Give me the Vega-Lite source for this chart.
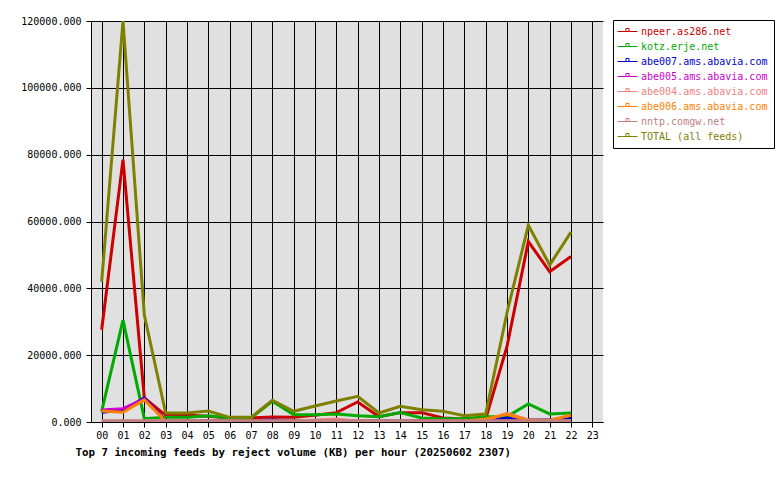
{
  "$schema": "https://vega.github.io/schema/vega-lite/v6.json",
  "width": 512,
  "height": 401,
  "autosize": "none",
  "padding": {"left": 91, "top": 21, "right": 177, "bottom": 58},
  "background": "white",
  "config": {
    "view": {"fill": "#e0e0e0", "stroke": null},
    "font": "DejaVu Sans Mono"
  },
  "data": {"values": [
    {"f":"npeer.as286.net","h":0,"v":27600},{"f":"npeer.as286.net","h":1,"v":78500},{"f":"npeer.as286.net","h":2,"v":7200},{"f":"npeer.as286.net","h":3,"v":2000},{"f":"npeer.as286.net","h":4,"v":2000},{"f":"npeer.as286.net","h":5,"v":1700},{"f":"npeer.as286.net","h":6,"v":1200},{"f":"npeer.as286.net","h":7,"v":1200},{"f":"npeer.as286.net","h":8,"v":1500},{"f":"npeer.as286.net","h":9,"v":1400},{"f":"npeer.as286.net","h":10,"v":2000},{"f":"npeer.as286.net","h":11,"v":2800},{"f":"npeer.as286.net","h":12,"v":6000},{"f":"npeer.as286.net","h":13,"v":1600},{"f":"npeer.as286.net","h":14,"v":2800},{"f":"npeer.as286.net","h":15,"v":2800},{"f":"npeer.as286.net","h":16,"v":1200},{"f":"npeer.as286.net","h":17,"v":900},{"f":"npeer.as286.net","h":18,"v":900},{"f":"npeer.as286.net","h":19,"v":22600},{"f":"npeer.as286.net","h":20,"v":54000},{"f":"npeer.as286.net","h":21,"v":45000},{"f":"npeer.as286.net","h":22,"v":49500},
    {"f":"kotz.erje.net","h":0,"v":3200},{"f":"kotz.erje.net","h":1,"v":30500},{"f":"kotz.erje.net","h":2,"v":1000},{"f":"kotz.erje.net","h":3,"v":1400},{"f":"kotz.erje.net","h":4,"v":1400},{"f":"kotz.erje.net","h":5,"v":1900},{"f":"kotz.erje.net","h":6,"v":1200},{"f":"kotz.erje.net","h":7,"v":1200},{"f":"kotz.erje.net","h":8,"v":6200},{"f":"kotz.erje.net","h":9,"v":2200},{"f":"kotz.erje.net","h":10,"v":2200},{"f":"kotz.erje.net","h":11,"v":2400},{"f":"kotz.erje.net","h":12,"v":1900},{"f":"kotz.erje.net","h":13,"v":1600},{"f":"kotz.erje.net","h":14,"v":2800},{"f":"kotz.erje.net","h":15,"v":1200},{"f":"kotz.erje.net","h":16,"v":1000},{"f":"kotz.erje.net","h":17,"v":1000},{"f":"kotz.erje.net","h":18,"v":1600},{"f":"kotz.erje.net","h":19,"v":1600},{"f":"kotz.erje.net","h":20,"v":5400},{"f":"kotz.erje.net","h":21,"v":2400},{"f":"kotz.erje.net","h":22,"v":2700},
    {"f":"abe007.ams.abavia.com","h":0,"v":2900},{"f":"abe007.ams.abavia.com","h":1,"v":3500},{"f":"abe007.ams.abavia.com","h":2,"v":7200},{"f":"abe007.ams.abavia.com","h":3,"v":300},{"f":"abe007.ams.abavia.com","h":4,"v":300},{"f":"abe007.ams.abavia.com","h":5,"v":300},{"f":"abe007.ams.abavia.com","h":6,"v":300},{"f":"abe007.ams.abavia.com","h":7,"v":300},{"f":"abe007.ams.abavia.com","h":8,"v":600},{"f":"abe007.ams.abavia.com","h":9,"v":300},{"f":"abe007.ams.abavia.com","h":10,"v":300},{"f":"abe007.ams.abavia.com","h":11,"v":300},{"f":"abe007.ams.abavia.com","h":12,"v":300},{"f":"abe007.ams.abavia.com","h":13,"v":300},{"f":"abe007.ams.abavia.com","h":14,"v":300},{"f":"abe007.ams.abavia.com","h":15,"v":300},{"f":"abe007.ams.abavia.com","h":16,"v":300},{"f":"abe007.ams.abavia.com","h":17,"v":300},{"f":"abe007.ams.abavia.com","h":18,"v":300},{"f":"abe007.ams.abavia.com","h":19,"v":1200},{"f":"abe007.ams.abavia.com","h":20,"v":600},{"f":"abe007.ams.abavia.com","h":21,"v":700},{"f":"abe007.ams.abavia.com","h":22,"v":1200},
    {"f":"abe005.ams.abavia.com","h":0,"v":3600},{"f":"abe005.ams.abavia.com","h":1,"v":4000},{"f":"abe005.ams.abavia.com","h":2,"v":6900},{"f":"abe005.ams.abavia.com","h":3,"v":200},{"f":"abe005.ams.abavia.com","h":4,"v":200},{"f":"abe005.ams.abavia.com","h":5,"v":200},{"f":"abe005.ams.abavia.com","h":6,"v":200},{"f":"abe005.ams.abavia.com","h":7,"v":200},{"f":"abe005.ams.abavia.com","h":8,"v":200},{"f":"abe005.ams.abavia.com","h":9,"v":200},{"f":"abe005.ams.abavia.com","h":10,"v":200},{"f":"abe005.ams.abavia.com","h":11,"v":200},{"f":"abe005.ams.abavia.com","h":12,"v":200},{"f":"abe005.ams.abavia.com","h":13,"v":200},{"f":"abe005.ams.abavia.com","h":14,"v":200},{"f":"abe005.ams.abavia.com","h":15,"v":200},{"f":"abe005.ams.abavia.com","h":16,"v":200},{"f":"abe005.ams.abavia.com","h":17,"v":200},{"f":"abe005.ams.abavia.com","h":18,"v":200},{"f":"abe005.ams.abavia.com","h":19,"v":300},{"f":"abe005.ams.abavia.com","h":20,"v":200},{"f":"abe005.ams.abavia.com","h":21,"v":200},{"f":"abe005.ams.abavia.com","h":22,"v":200},
    {"f":"abe004.ams.abavia.com","h":0,"v":200},{"f":"abe004.ams.abavia.com","h":1,"v":200},{"f":"abe004.ams.abavia.com","h":2,"v":200},{"f":"abe004.ams.abavia.com","h":3,"v":200},{"f":"abe004.ams.abavia.com","h":4,"v":200},{"f":"abe004.ams.abavia.com","h":5,"v":200},{"f":"abe004.ams.abavia.com","h":6,"v":200},{"f":"abe004.ams.abavia.com","h":7,"v":200},{"f":"abe004.ams.abavia.com","h":8,"v":200},{"f":"abe004.ams.abavia.com","h":9,"v":200},{"f":"abe004.ams.abavia.com","h":10,"v":600},{"f":"abe004.ams.abavia.com","h":11,"v":900},{"f":"abe004.ams.abavia.com","h":12,"v":200},{"f":"abe004.ams.abavia.com","h":13,"v":200},{"f":"abe004.ams.abavia.com","h":14,"v":200},{"f":"abe004.ams.abavia.com","h":15,"v":200},{"f":"abe004.ams.abavia.com","h":16,"v":200},{"f":"abe004.ams.abavia.com","h":17,"v":200},{"f":"abe004.ams.abavia.com","h":18,"v":500},{"f":"abe004.ams.abavia.com","h":19,"v":2600},{"f":"abe004.ams.abavia.com","h":20,"v":600},{"f":"abe004.ams.abavia.com","h":21,"v":300},{"f":"abe004.ams.abavia.com","h":22,"v":300},
    {"f":"abe006.ams.abavia.com","h":0,"v":3300},{"f":"abe006.ams.abavia.com","h":1,"v":2900},{"f":"abe006.ams.abavia.com","h":2,"v":6600},{"f":"abe006.ams.abavia.com","h":3,"v":200},{"f":"abe006.ams.abavia.com","h":4,"v":200},{"f":"abe006.ams.abavia.com","h":5,"v":200},{"f":"abe006.ams.abavia.com","h":6,"v":200},{"f":"abe006.ams.abavia.com","h":7,"v":200},{"f":"abe006.ams.abavia.com","h":8,"v":200},{"f":"abe006.ams.abavia.com","h":9,"v":200},{"f":"abe006.ams.abavia.com","h":10,"v":200},{"f":"abe006.ams.abavia.com","h":11,"v":200},{"f":"abe006.ams.abavia.com","h":12,"v":200},{"f":"abe006.ams.abavia.com","h":13,"v":200},{"f":"abe006.ams.abavia.com","h":14,"v":200},{"f":"abe006.ams.abavia.com","h":15,"v":200},{"f":"abe006.ams.abavia.com","h":16,"v":200},{"f":"abe006.ams.abavia.com","h":17,"v":300},{"f":"abe006.ams.abavia.com","h":18,"v":900},{"f":"abe006.ams.abavia.com","h":19,"v":2300},{"f":"abe006.ams.abavia.com","h":20,"v":500},{"f":"abe006.ams.abavia.com","h":21,"v":500},{"f":"abe006.ams.abavia.com","h":22,"v":2000},
    {"f":"nntp.comgw.net","h":0,"v":400},{"f":"nntp.comgw.net","h":1,"v":400},{"f":"nntp.comgw.net","h":2,"v":400},{"f":"nntp.comgw.net","h":3,"v":400},{"f":"nntp.comgw.net","h":4,"v":400},{"f":"nntp.comgw.net","h":5,"v":400},{"f":"nntp.comgw.net","h":6,"v":400},{"f":"nntp.comgw.net","h":7,"v":400},{"f":"nntp.comgw.net","h":8,"v":400},{"f":"nntp.comgw.net","h":9,"v":400},{"f":"nntp.comgw.net","h":10,"v":400},{"f":"nntp.comgw.net","h":11,"v":400},{"f":"nntp.comgw.net","h":12,"v":400},{"f":"nntp.comgw.net","h":13,"v":400},{"f":"nntp.comgw.net","h":14,"v":400},{"f":"nntp.comgw.net","h":15,"v":400},{"f":"nntp.comgw.net","h":16,"v":400},{"f":"nntp.comgw.net","h":17,"v":400},{"f":"nntp.comgw.net","h":18,"v":400},{"f":"nntp.comgw.net","h":19,"v":400},{"f":"nntp.comgw.net","h":20,"v":400},{"f":"nntp.comgw.net","h":21,"v":400},{"f":"nntp.comgw.net","h":22,"v":400},
    {"f":"TOTAL (all feeds)","h":0,"v":42000},{"f":"TOTAL (all feeds)","h":1,"v":120000},{"f":"TOTAL (all feeds)","h":2,"v":32000},{"f":"TOTAL (all feeds)","h":3,"v":2700},{"f":"TOTAL (all feeds)","h":4,"v":2700},{"f":"TOTAL (all feeds)","h":5,"v":3300},{"f":"TOTAL (all feeds)","h":6,"v":1400},{"f":"TOTAL (all feeds)","h":7,"v":1400},{"f":"TOTAL (all feeds)","h":8,"v":6500},{"f":"TOTAL (all feeds)","h":9,"v":3200},{"f":"TOTAL (all feeds)","h":10,"v":4800},{"f":"TOTAL (all feeds)","h":11,"v":6300},{"f":"TOTAL (all feeds)","h":12,"v":7700},{"f":"TOTAL (all feeds)","h":13,"v":2700},{"f":"TOTAL (all feeds)","h":14,"v":4700},{"f":"TOTAL (all feeds)","h":15,"v":3700},{"f":"TOTAL (all feeds)","h":16,"v":3200},{"f":"TOTAL (all feeds)","h":17,"v":1900},{"f":"TOTAL (all feeds)","h":18,"v":2400},{"f":"TOTAL (all feeds)","h":19,"v":32700},{"f":"TOTAL (all feeds)","h":20,"v":58900},{"f":"TOTAL (all feeds)","h":21,"v":47000},{"f":"TOTAL (all feeds)","h":22,"v":56800}
  ]},
  "mark": {"type": "line", "strokeWidth": 3, "clip": true},
  "encoding": {
    "x": {
      "field": "h", "type": "quantitative",
      "scale": {"domain": [-0.5, 23.5], "nice": false, "zero": false},
      "axis": {
        "values": [0,1,2,3,4,5,6,7,8,9,10,11,12,13,14,15,16,17,18,19,20,21,22,23],
        "format": "02d",
        "title": "Top 7 incoming feeds by reject volume (KB) per hour (20250602 2307)",
        "titleFont": "DejaVu Sans Mono", "titleFontWeight": "bold", "titleFontSize": 10.8, "titleColor": "black",
        "titleAnchor": "start", "titleAlign": "left", "titleX": -16, "titleY": 33, "titleBaseline": "alphabetic",
        "labelFont": "DejaVu Sans Mono", "labelFontSize": 10, "labelColor": "black", "labelDx": -4, "labelPadding": 3,
        "domainColor": "black", "tickColor": "black", "tickSize": 5,
        "grid": true, "gridColor": "black", "gridOpacity": 1, "gridWidth": 1, "labelFlush": false
      }
    },
    "y": {
      "field": "v", "type": "quantitative",
      "scale": {"domain": [0, 120000], "nice": false},
      "axis": {
        "values": [0,20000,40000,60000,80000,100000,120000],
        "format": ".3f",
        "title": null,
        "labelFont": "DejaVu Sans Mono", "labelFontSize": 10, "labelColor": "black", "labelPadding": 5,
        "domainColor": "black", "tickColor": "black", "tickSize": 5,
        "grid": true, "gridColor": "black", "gridOpacity": 1, "gridWidth": 1, "labelFlush": false
      }
    },
    "color": {
      "field": "f", "type": "nominal",
      "scale": {
        "domain": ["npeer.as286.net","kotz.erje.net","abe007.ams.abavia.com","abe005.ams.abavia.com","abe004.ams.abavia.com","abe006.ams.abavia.com","nntp.comgw.net","TOTAL (all feeds)"],
        "range": ["#cc0000","#00aa00","#0000cc","#cc00cc","#f08080","#ff8000","#c08080","#808000"]
      },
      "legend": {
        "title": null,
        "orient": "none",
        "legendX": 522,
        "legendY": -1,
        "fillColor": "white",
        "strokeColor": "black",
        "padding": 6,
        "symbolType": "M-2,0H2M-0.3,0V-0.6H0.3V0",
        "symbolSize": 100,
        "symbolOffset": 3,
        "symbolStrokeWidth": 1,
        "labelFont": "DejaVu Sans Mono",
        "labelFontSize": 10,
        "labelOffset": 8,
        "rowPadding": 4,
        "labelLimit": 300,
        "encode": {
          "labels": {"update": {"fill": {"scale": "color", "field": "value"}}},
          "symbols": {"update": {"stroke": {"scale": "color", "field": "value"}, "fill": {"value": "transparent"}}}
        }
      }
    },
    "order": {"field": "h", "type": "quantitative"}
  }
}
